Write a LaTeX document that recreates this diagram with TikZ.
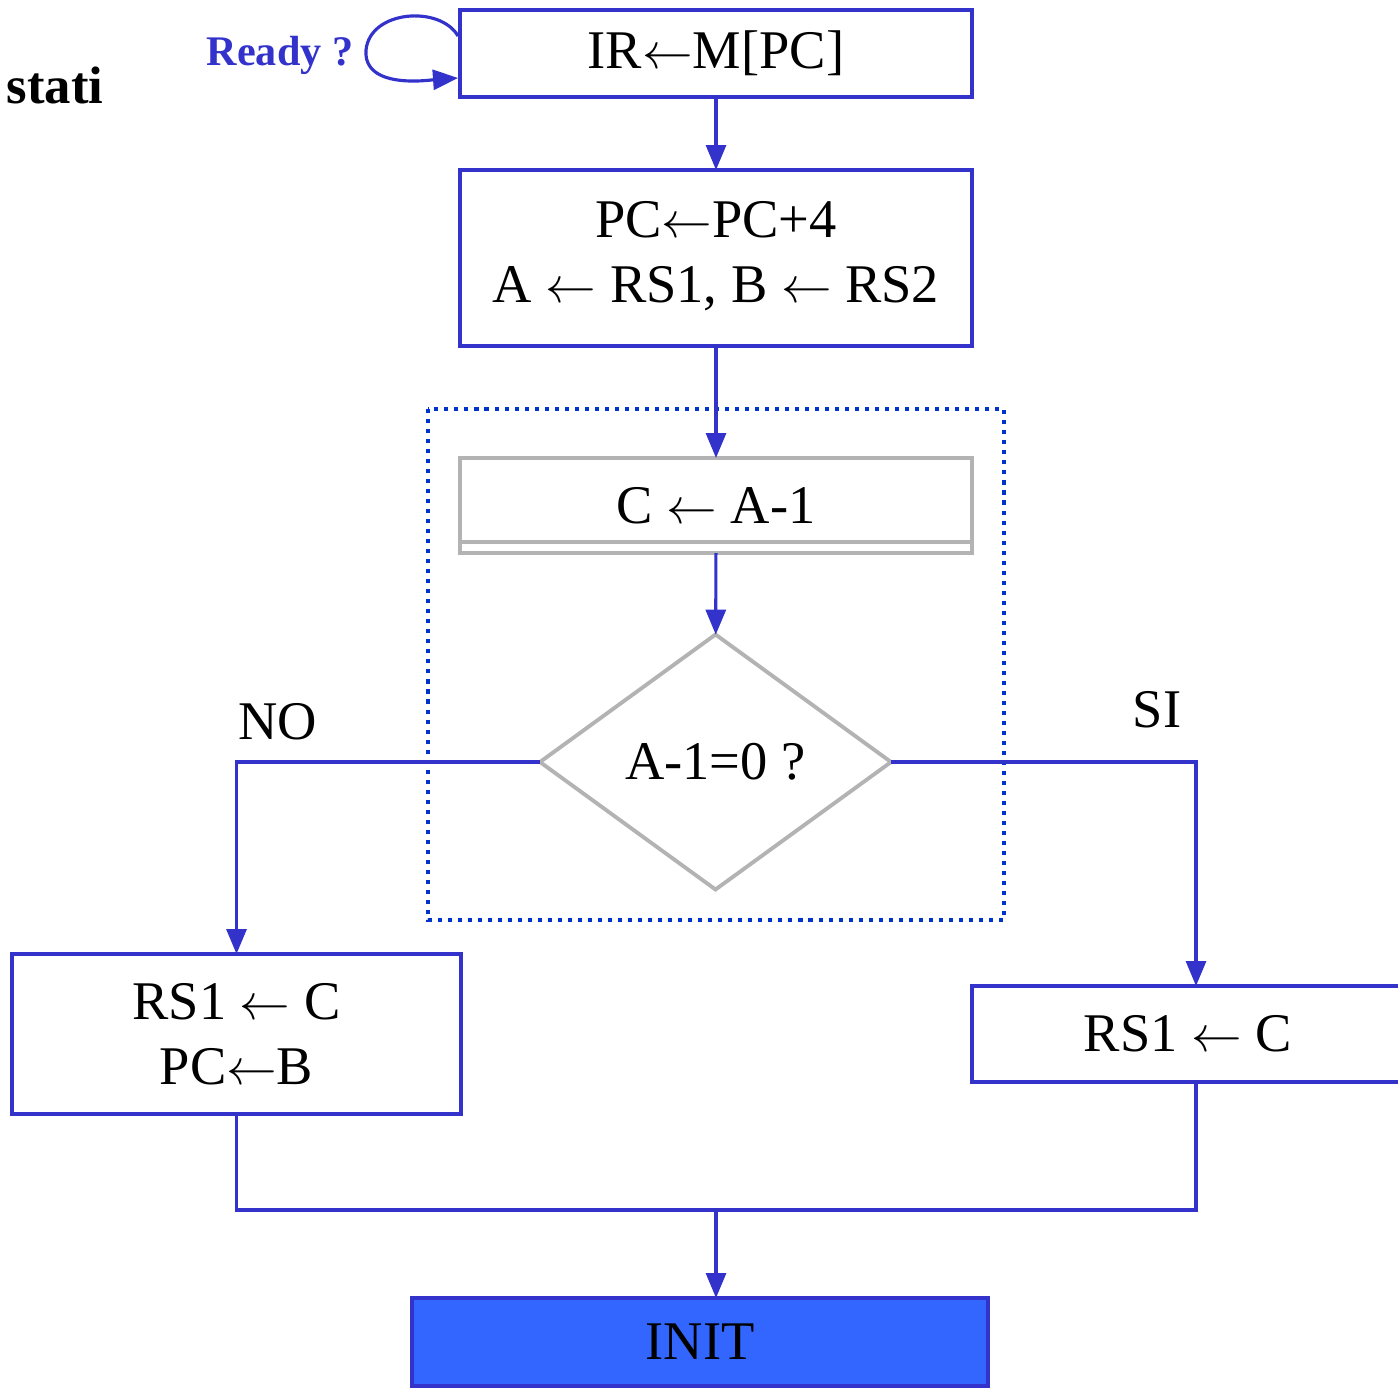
\documentclass[tikz,border=0pt]{standalone}
\usepackage{fontspec}
\setmainfont{Liberation Serif}
\usetikzlibrary{arrows.meta,shapes.geometric}
\definecolor{linea}{HTML}{3333CC}
\definecolor{punti}{HTML}{0033CC}
\definecolor{grigio}{HTML}{B3B3B3}
\definecolor{riemp}{HTML}{3366FF}
\newcommand{\fr}{$\leftarrow$}

\begin{document}
\begin{tikzpicture}[x=1cm,y=-1cm,
  every node/.style={font=\fontsize{15.5}{18.5}\selectfont, align=center, inner sep=0pt, outer sep=0pt},
  blocco/.style={draw=linea, line width=0.9pt, rectangle},
  freccia/.style={draw=linea, line width=0.9pt, -{Triangle[length=0.25cm,width=0.2cm]}},
  filo/.style={draw=linea, line width=0.9pt}]
\useasboundingbox (0,0) rectangle (13.98,13.88);

\node[font=\fontsize{15}{18}\selectfont\bfseries] (stati) at (0.55,0.85) {stati};
\node[font=\fontsize{12}{14}\selectfont\bfseries, text=linea] (ready) at (2.8,0.55) {Ready ?};

\node[blocco, minimum width=5.12cm, minimum height=0.87cm] (ir) at (7.16,0.535) {IR\fr M[PC]};
\node[blocco, minimum width=5.12cm, minimum height=1.76cm] (pc) at (7.16,2.58) {PC\fr PC+4\\A \fr{} RS1, B \fr{} RS2\rule[-0.5ex]{0pt}{0pt}};

\draw[punti, line width=1.3pt, dash pattern=on 1.15pt off 1.7pt] (4.28,4.09) rectangle (10.04,9.20);

\node[draw=grigio, line width=1.1pt, minimum width=5.12cm, minimum height=0.95cm] (calc) at (7.16,5.055) {C \fr{} A-1};
\draw[grigio, line width=0.9pt] ([yshift=0.11cm]calc.south west) -- ([yshift=0.11cm]calc.south east);
\node[shape=diamond, draw=grigio, line width=1.1pt, minimum width=3.51cm, minimum height=2.55cm] (dec) at (7.155,7.62) {A-1=0 ?};

\node (no) at (2.78,7.22) {NO};
\node (si) at (11.57,7.10) {SI};

\node[blocco, minimum width=4.49cm, minimum height=1.6cm] (ramono) at (2.365,10.34) {RS1 \fr{} C\\PC\fr B};
\node[blocco, minimum width=4.32cm, minimum height=0.96cm] (ramosi) at (11.88,10.34) {RS1 \fr{} C};

\node[blocco, fill=riemp, minimum width=5.76cm, minimum height=0.88cm] (init) at (7.0,13.42) {INIT};

\coordinate (lp1) at (4.58,0.36);
\coordinate (lp2) at (4.58,0.78);
\coordinate (m) at (7.16,12.10);

\draw[freccia] (lp1) .. controls (4.4,0.05) and (3.7,0.1) .. (3.66,0.5) .. controls (3.63,0.9) and (4.3,0.8) .. (lp2);
\draw[freccia] (ir) -- (pc);
\draw[freccia] (pc) -- (calc);
\draw[freccia] (calc) -- (dec);
\draw[freccia] (dec.west) -| (ramono.north);
\draw[freccia] (dec.east) -| ([xshift=0.08cm]ramosi.north);
\draw[filo] (ramono.south) |- (m) -| ([xshift=0.08cm]ramosi.south);
\draw[freccia] (m) -- (m |- init.north);
\end{tikzpicture}
\end{document}
